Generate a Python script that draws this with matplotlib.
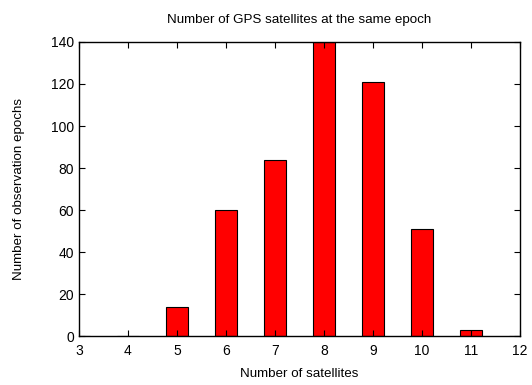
import matplotlib
matplotlib.use("Agg")
import matplotlib.pyplot as plt

satellites = [3, 4, 5, 6, 7, 8, 9, 10, 11, 12]
epochs = [0, 0, 14, 60, 84, 140, 121, 51, 3, 0]
xticks = [3, 4, 5, 6, 7, 8, 9, 10, 11, 12]
yticks = [0, 20, 40, 60, 80, 100, 120, 140]

plt.rcParams['font.family'] = ['Liberation Sans', 'DejaVu Sans']
fig = plt.figure(figsize=(5.32, 3.85), dpi=100)
ax = fig.add_axes([0.1485, 0.127, 0.8285, 0.764])
ax.bar(satellites, epochs, width=0.45, color='#ff0000', edgecolor='black', linewidth=0.8)
ax.set_xlim(3, 12)
ax.set_ylim(0, 140)
ax.set_xticks(xticks)
ax.set_yticks(yticks)
ax.tick_params(direction='in', top=True, right=True, length=4, labelsize=10, width=0.8)
ax.tick_params(axis='x', pad=6)
for s in ax.spines.values():
    s.set_linewidth(1)
ax.set_title('Number of GPS satellites at the same epoch', fontsize=9.6, pad=14)
ax.set_xlabel('Number of satellites', fontsize=9.6, labelpad=7)
ax.set_ylabel('Number of observation epochs', fontsize=9.6, labelpad=19)
fig.savefig('out.png', dpi=100)
